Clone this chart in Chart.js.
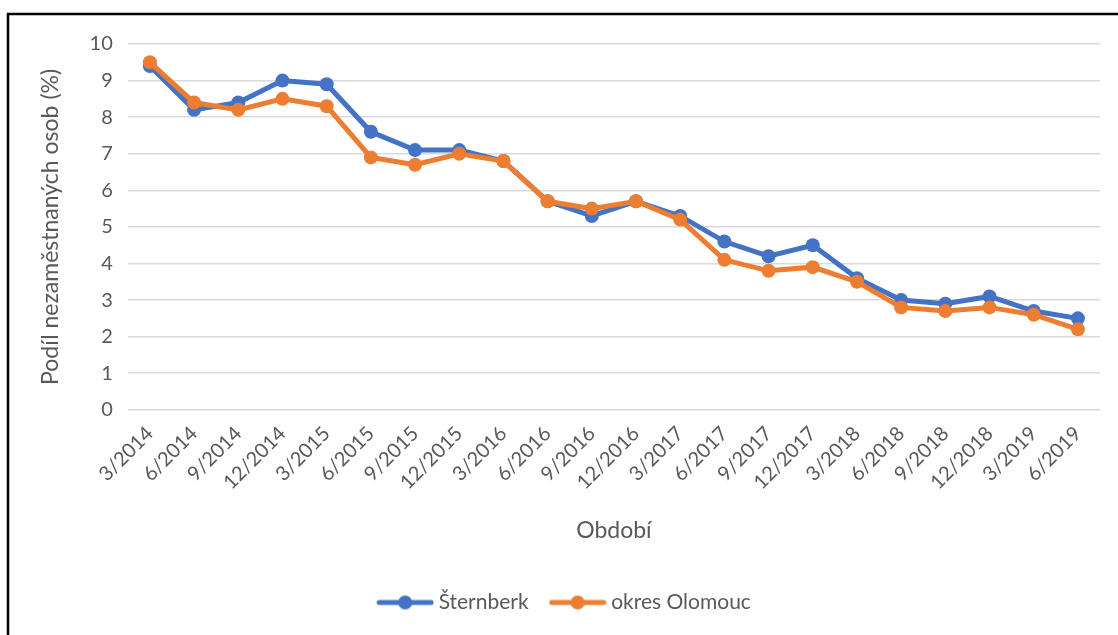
<!DOCTYPE html>
<html>
<head>
<meta charset="utf-8">
<script src="https://cdn.jsdelivr.net/npm/chart.js@4"></script>
<style>
  html, body { margin: 0; padding: 0; background: #fff; }
  #wrap { position: absolute; left: 0; top: 0; width: 1118px; height: 635px; }
</style>
</head>
<body>
<div id="wrap"><canvas id="chart"></canvas></div>
<script>
// data
const labels = ["3/2014", "6/2014", "9/2014", "12/2014", "3/2015", "6/2015", "9/2015", "12/2015",
  "3/2016", "6/2016", "9/2016", "12/2016", "3/2017", "6/2017", "9/2017", "12/2017",
  "3/2018", "6/2018", "9/2018", "12/2018", "3/2019", "6/2019"];
const sternberk = [9.4, 8.2, 8.4, 9.0, 8.9, 7.6, 7.1, 7.1, 6.8, 5.7, 5.3, 5.7, 5.3, 4.6, 4.2, 4.5, 3.6, 3.0, 2.9, 3.1, 2.7, 2.5];
const olomouc = [9.5, 8.4, 8.2, 8.5, 8.3, 6.9, 6.7, 7.0, 6.8, 5.7, 5.5, 5.7, 5.2, 4.1, 3.8, 3.9, 3.5, 2.8, 2.7, 2.8, 2.6, 2.2];

const BLUE = "#4472C4";
const ORANGE = "#ED7D31";
const TEXT = "#595959";
Chart.defaults.font.family = "Lato, 'Open Sans', sans-serif";

// legend marker: short line with a dot in the middle
function legendMarker(color) {
    var c = document.createElement("canvas");
    c.width = 58; c.height = 18;
    var ctx = c.getContext("2d");
    ctx.strokeStyle = color;
    ctx.lineWidth = 5;
    ctx.lineCap = "round";
    ctx.beginPath();
    ctx.moveTo(3, 9); ctx.lineTo(55, 9);
    ctx.stroke();
    ctx.fillStyle = color;
    ctx.beginPath();
    ctx.arc(29, 9, 7, 0, Math.PI * 2);
    ctx.fill();
    return c;
}

// black frame on top and left like the source picture
const framePlugin = {
    id: "frame",
    afterDraw(chart) {
        var ctx = chart.ctx;
        ctx.save();
        ctx.strokeStyle = "#000";
        ctx.lineWidth = 2.5;
        ctx.beginPath();
        ctx.moveTo(8, 640);
        ctx.lineTo(8, 14);
        ctx.lineTo(1118, 14);
        ctx.stroke();
        ctx.restore();
    }
};

new Chart("chart", {
    type: "line",
    data: {
        labels: labels,
        datasets: [{
            label: "Šternberk",
            data: sternberk,
            borderColor: BLUE,
            backgroundColor: BLUE,
            borderWidth: 5,
            pointStyle: "circle",
            pointRadius: 7,
            pointHoverRadius: 7,
            pointBorderWidth: 0,
            lineTension: 0,
            fill: false,
            order: 2
        }, {
            label: "okres Olomouc",
            data: olomouc,
            borderColor: ORANGE,
            backgroundColor: ORANGE,
            borderWidth: 5,
            pointStyle: "circle",
            pointRadius: 7,
            pointHoverRadius: 7,
            pointBorderWidth: 0,
            lineTension: 0,
            fill: false,
            order: 1
        }]
    },
    options: {
        responsive: true,
        maintainAspectRatio: false,
        animation: false,
        layout: { padding: { left: 33, top: 44, right: 18, bottom: 12 } },
        plugins: {
            legend: {
                display: true,
                position: "bottom",
                labels: {
                    usePointStyle: true,
                    pointStyleWidth: 46,
                    color: TEXT,
                    font: { size: 21 },
                    padding: 26,
                    generateLabels(chart) {
                        return chart.data.datasets.map(function (ds, i) {
                            return {
                                text: ds.label,
                                fontColor: TEXT,
                                pointStyle: legendMarker(ds.borderColor),
                                lineWidth: 0,
                                strokeStyle: "transparent",
                                fillStyle: "transparent",
                                datasetIndex: i,
                                hidden: false
                            };
                        });
                    }
                }
            },
            tooltip: { enabled: false }
        },
        scales: {
            x: {
                offset: true,
                grid: { display: false },
                border: { display: false },
                ticks: { color: TEXT, font: { size: 20 }, minRotation: 45, maxRotation: 45, padding: 4 },
                title: { display: true, text: "Období", color: TEXT, font: { size: 23 }, padding: { top: 18, bottom: 22 } }
            },
            y: {
                min: 0,
                max: 10,
                ticks: { stepSize: 1, color: TEXT, font: { size: 20 }, padding: 15 },
                grid: { color: "#d9d9d9", lineWidth: 1.5, drawTicks: false },
                border: { display: false },
                title: { display: true, text: "Podíl nezaměstnaných osob (%)", color: TEXT, font: { size: 23 }, padding: { bottom: 10 } }
            }
        }
    },
    plugins: [framePlugin]
});
</script>
</body>
</html>
